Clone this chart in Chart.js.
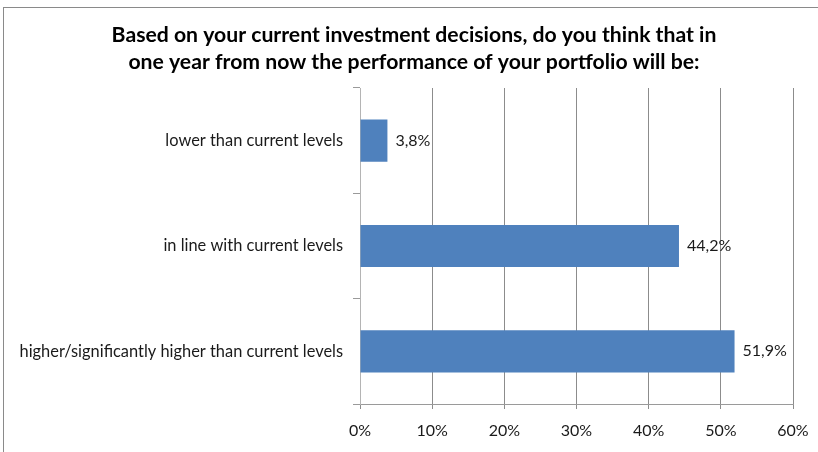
<!DOCTYPE html>
<html>
<head>
<meta charset="utf-8">
<script src="https://cdn.jsdelivr.net/npm/chart.js@4.4.1/dist/chart.umd.min.js"></script>
<style>
  html, body { margin: 0; padding: 0; background: #fff; }
  #wrap { position: relative; width: 818px; height: 452px; overflow: hidden; }
  #frame { position: absolute; left: 3px; top: 7px; width: 900px; height: 500px;
           border-left: 1px solid #8a8a8a; border-top: 1px solid #8a8a8a; }
  canvas { position: absolute; left: 0; top: 0; }
</style>
</head>
<body>
<div id="wrap">
  <div id="frame"></div>
  <canvas id="c" width="818" height="452"></canvas>
</div>
<script>
const titleLines = [
  'Based on your current investment decisions, do you think that in',
  'one year from now the performance of your portfolio will be:'
];
const categories = [
  'lower than current levels',
  'in line with current levels',
  'higher/significantly higher than current levels'
];
const shares = [3.8, 44.2, 51.9];
const axisTicks = [0, 10, 20, 30, 40, 50, 60];

const fmt = v => v.toFixed(1).replace('.', ',') + '%';
const FONT = 'Lato, "Open Sans", sans-serif';

// Value labels to the right of each bar
const barLabels = {
  id: 'barLabels',
  afterDatasetsDraw(chart) {
    const ctx = chart.ctx;
    const meta = chart.getDatasetMeta(0);
    ctx.save();
    ctx.font = '16px ' + FONT;
    ctx.fillStyle = '#1a1a1a';
    ctx.textAlign = 'left';
    ctx.textBaseline = 'middle';
    meta.data.forEach((bar, i) => {
      ctx.fillText(fmt(shares[i]), bar.x + 8, bar.y);
    });
    ctx.restore();
  }
};

// Center the title over the frame rather than the full canvas width
const titleSpan = {
  id: 'titleSpan',
  afterLayout(chart) {
    const t = chart.titleBlock;
    if (t) {
      t.left = 35;
      t.right = 793;
      t.width = t.right - t.left;
    }
  }
};

new Chart(document.getElementById('c'), {
  type: 'bar',
  data: {
    labels: categories,
    datasets: [{
      data: shares,
      backgroundColor: '#4F81BD',
      borderWidth: 0,
      barPercentage: 0.4,
      categoryPercentage: 1.0
    }]
  },
  options: {
    indexAxis: 'y',
    responsive: false,
    animation: false,
    layout: { padding: { left: 0, right: 25, top: 0, bottom: 0 } },
    plugins: {
      legend: { display: false },
      tooltip: { enabled: false },
      title: {
        display: true,
        text: titleLines,
        color: '#000',
        font: { family: FONT, size: 21.2, weight: 'bold', lineHeight: '27px' },
        padding: { top: 22, bottom: 12 }
      }
    },
    scales: {
      x: {
        min: 0,
        max: 60,
        afterBuildTicks(scale) { scale.ticks = axisTicks.map(v => ({ value: v })); },
        afterFit(scale) {
          scale.height = 48;
          scale.paddingLeft = 0;
          scale.paddingRight = 0;
        },
        ticks: {
          callback: v => v + '%',
          color: '#1a1a1a',
          font: { family: FONT, size: 16 },
          padding: 12,
          maxRotation: 0
        },
        grid: { color: '#8c8c8c', tickLength: 5, lineWidth: 1 },
        border: { color: '#9a9a9a' }
      },
      y: {
        afterFit(scale) { scale.width = 360; },
        ticks: {
          color: '#1a1a1a',
          font: { family: FONT, size: 16.4 },
          padding: 10
        },
        grid: { drawOnChartArea: false, tickLength: 7, color: '#9a9a9a', offset: true },
        border: { color: '#b4b4b4' }
      }
    }
  },
  plugins: [barLabels, titleSpan]
});
</script>
</body>
</html>
